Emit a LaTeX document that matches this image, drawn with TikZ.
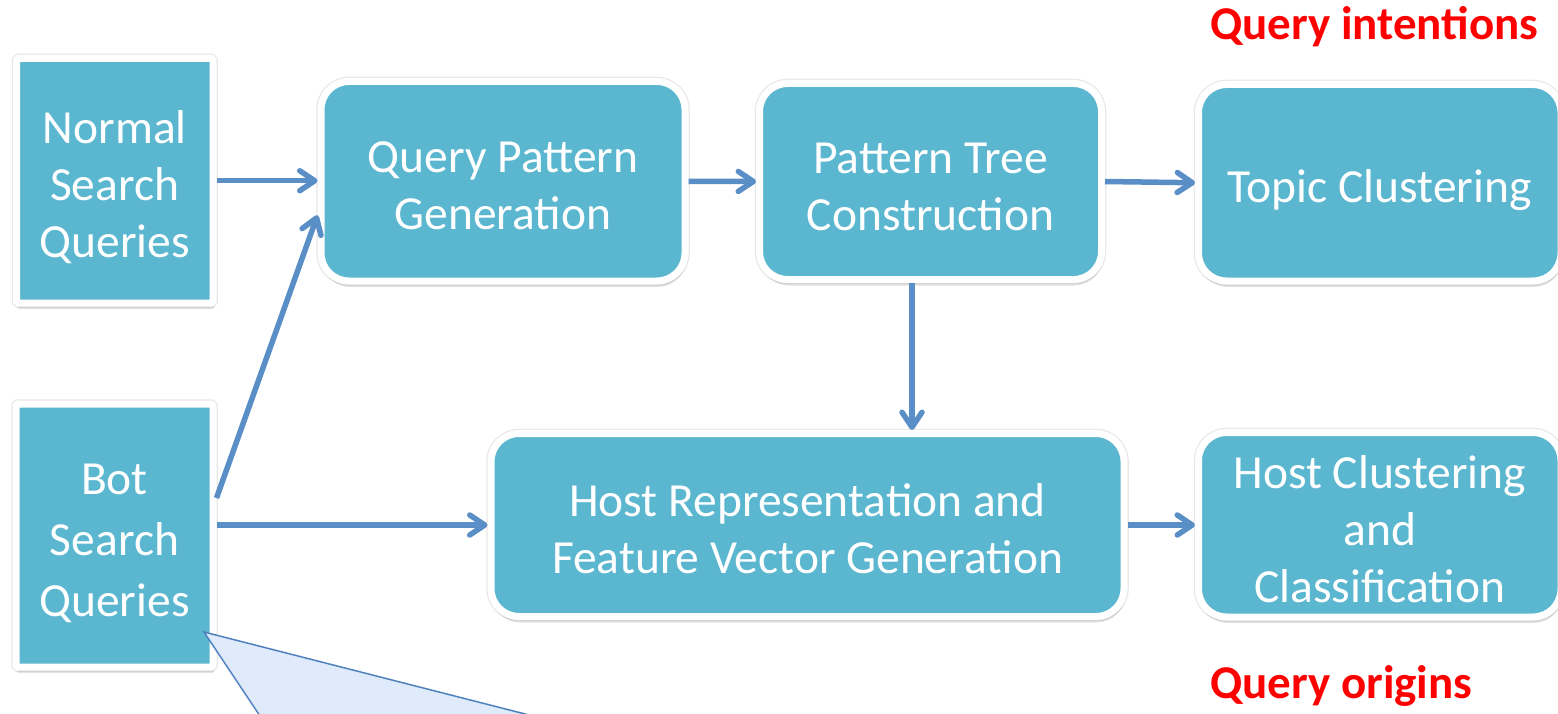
\documentclass[tikz,border=0pt]{standalone}
\usepackage{fontspec}
\setmainfont{Carlito}
\usetikzlibrary{arrows.meta,shadows,calc}
\definecolor{boxfill}{RGB}{91,183,208}
\definecolor{arrowc}{RGB}{90,142,199}
\definecolor{calfill}{RGB}{223,234,251}
\definecolor{calline}{RGB}{79,129,189}
\definecolor{redtxt}{RGB}{255,0,0}
\begin{document}
\begin{tikzpicture}[x=1pt,y=-1pt,
  stage/.style={fill=boxfill, draw=white, line width=7pt, rounded corners=28pt,
    inner sep=0pt,
    preaction={draw=black!9, line width=9.5pt},
    drop shadow={shadow xshift=1pt, shadow yshift=-6pt, opacity=0.22, fill=black!50}},
  srcbox/.style={stage, rounded corners=1.5pt},
  txt/.style={text=white, align=center, inner sep=0pt, yshift=-5pt,
    font=\fontsize{47.5}{57}\selectfont},
  flow/.style={draw=arrowc, line width=5.5pt,
    -{Straight Barb[length=15pt,width=20pt,line cap=round,line join=round]}},
  tag/.style={text=redtxt, font=\fontsize{47}{55}\selectfont\bfseries, inner sep=0pt}
]
\useasboundingbox (0,0) rectangle (1558,714);
\clip (0,0) rectangle (1558,714);

% source boxes
\node[srcbox, minimum width=196.5pt, minimum height=244.5pt,
  label={[txt, yshift=-1pt]center:{Normal\\Search\\Queries}}] (normal) at (114.75,180.75) {};
\node[srcbox, minimum width=197pt, minimum height=263pt,
  label={[txt, yshift=-3pt, font=\fontsize{47.5}{61}\selectfont]center:{Bot\\Search\\Queries}}] (bot) at (114.5,535.5) {};

% stage boxes
\node[stage, minimum width=364pt, minimum height=199.5pt,
  label={[txt]center:{Query Pattern\\Generation}}] (qpg) at (503,181.25) {};
\node[stage, minimum width=342pt, minimum height=196pt,
  label={[txt]center:{Pattern Tree\\Construction}}] (ptc) at (930.5,181.5) {};
\node[stage, minimum width=362.5pt, minimum height=196.5pt,
  label={[txt, yshift=-2pt]center:{Topic Clustering}}] (topic) at (1379.75,182.75) {};
\node[stage, minimum width=633pt, minimum height=183pt,
  label={[txt, yshift=1pt]center:{Host Representation and\\Feature Vector Generation}}] (hostrep) at (807.5,525) {};
\node[stage, minimum width=362.5pt, minimum height=184.5pt,
  label={[txt, yshift=1pt]center:{Host Clustering\\and\\Classification}}] (hostclust) at (1379.75,524.75) {};

% connectors
\draw[flow] (normal.east) -- (normal.east -| qpg.west);
\draw[flow] (qpg.east) -- (ptc.west);
\draw[flow] (ptc.east) -- (topic.west);
\draw[flow] ([xshift=-18.5pt]ptc.south) -- ([xshift=-18.5pt]ptc.south |- hostrep.north);
\draw[flow] ([yshift=37.5pt]bot.east) -- ([yshift=-34pt]qpg.west);
\draw[flow] (bot.east |- hostrep.west) -- (hostrep.west);
\draw[flow] (hostrep.east) -- (hostrep.east -| hostclust.west);

% callout pointing at bot
\coordinate (ctip) at (204,632);
\coordinate (cleft) at (276,740);
\coordinate (cright) at (627,740);
\path[fill=calfill] (ctip) -- (cleft) -- (cright) -- cycle;
\draw[calline, line width=1.5pt] (cleft) -- (ctip) -- (cright);

% labels
\node[tag, anchor=base west] (intent) at (1210,40) {Query intentions};
\node[tag, anchor=base west] (origin) at (1210,698) {Query origins};
\end{tikzpicture}
\end{document}
